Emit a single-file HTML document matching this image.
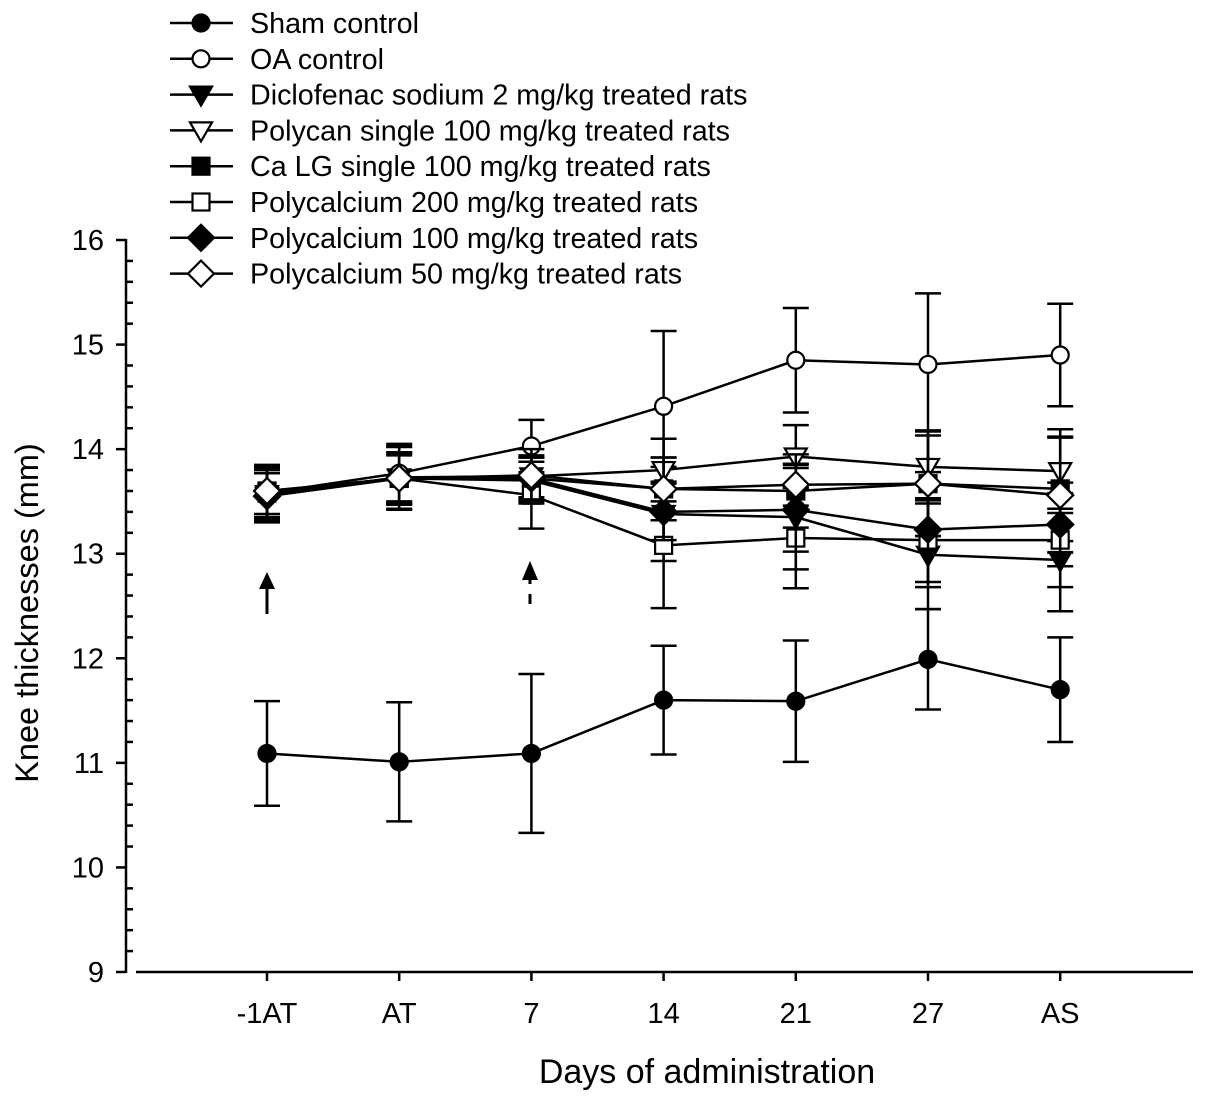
<!DOCTYPE html>
<html><head><meta charset="utf-8"><style>
html,body{margin:0;padding:0;background:#fff}
svg{display:block;font-family:"Liberation Sans",Arial,sans-serif}
</style></head><body>
<svg id="chart" width="1205" height="1103" viewBox="0 0 1205 1103" xmlns="http://www.w3.org/2000/svg"></svg>
<script>
const categories = ["-1AT","AT","7","14","21","27","AS"];
const seriesNames = ["Sham control","OA control","Diclofenac sodium 2 mg/kg treated rats","Polycan single 100 mg/kg treated rats","Ca LG single 100 mg/kg treated rats","Polycalcium 200 mg/kg treated rats","Polycalcium 100 mg/kg treated rats","Polycalcium 50 mg/kg treated rats"];
const markers = ["circleFilled","circleOpen","triDownFilled","triDownOpen","squareFilled","squareOpen","diamondFilled","diamondOpen"];
const shamValues = [11.09,11.01,11.09,11.60,11.59,11.99,11.70];
const shamErr = [0.50,0.57,0.76,0.52,0.58,0.48,0.50];
const oaValues = [13.58,13.77,14.03,14.41,14.85,14.81,14.90];
const oaErr = [0.25,0.28,0.25,0.72,0.50,0.68,0.49];
const diclofenacValues = [13.55,13.72,13.70,13.38,13.35,12.99,12.94];
const diclofenacErr = [0.22,0.25,0.22,0.45,0.50,0.52,0.49];
const polycanValues = [13.57,13.73,13.74,13.80,13.93,13.83,13.79];
const polycanErr = [0.25,0.30,0.20,0.30,0.30,0.35,0.40];
const caLgValues = [13.60,13.72,13.72,13.62,13.60,13.67,13.62];
const caLgErr = [0.22,0.25,0.20,0.30,0.35,0.50,0.50];
const pc200Values = [13.58,13.72,13.56,13.08,13.15,13.13,13.13];
const pc200Err = [0.25,0.24,0.32,0.60,0.48,0.40,0.45];
const pc100Values = [13.55,13.72,13.72,13.40,13.42,13.23,13.28];
const pc100Err = [0.25,0.22,0.20,0.27,0.40,0.55,0.40];
const pc50Values = [13.60,13.72,13.75,13.62,13.66,13.67,13.56];
const pc50Err = [0.25,0.30,0.25,0.30,0.20,0.50,0.55];
const yTickLabels = [9,10,11,12,13,14,15,16];

const allValues=[shamValues,oaValues,diclofenacValues,polycanValues,caLgValues,pc200Values,pc100Values,pc50Values];
const allErr=[shamErr,oaErr,diclofenacErr,polycanErr,caLgErr,pc200Err,pc100Err,pc50Err];
const NS="http://www.w3.org/2000/svg";
const svg=document.getElementById('chart');
function yS(v){return 972-(v-9)*104.57;}
function xS(i){return 267+i*132.2;}
function mk(tag,attrs,parent){const e=document.createElementNS(NS,tag);for(const k in attrs)e.setAttribute(k,attrs[k]);(parent||svg).appendChild(e);return e;}

const axes=mk('g',{});


mk('line',{x1:126,y1:239,x2:126,y2:973,stroke:'#000','stroke-width':2.5},axes);
mk('line',{x1:136,y1:972,x2:1193,y2:972,stroke:'#000','stroke-width':2.5},axes);
for(let v=9;v<=16.001;v+=0.2){
  const maj=Math.abs(v-Math.round(v))<0.01;
  const y=yS(v);
  if(maj) mk('line',{x1:116,y1:y,x2:126,y2:y,stroke:'#000','stroke-width':2.5},axes);
  else mk('line',{x1:126,y1:y,x2:133,y2:y,stroke:'#000','stroke-width':2.5},axes);
}
yTickLabels.forEach(v=>{
  const t=mk('text',{x:104,y:yS(v)+10,'text-anchor':'end','font-size':29},axes);
  t.textContent=v;
  
  
});
categories.forEach((c,i)=>{
  mk('line',{x1:xS(i),y1:972,x2:xS(i),y2:981,stroke:'#000','stroke-width':2.5},axes);
  const t=mk('text',{x:xS(i),y:1023,'text-anchor':'middle','font-size':29},axes);
  t.textContent=c;
  
  
});
const yt=mk('text',{x:0,y:0,'text-anchor':'middle','font-size':32.5,transform:'translate(38,613) rotate(-90)'});
yt.textContent='Knee thicknesses (mm)';


const xt=mk('text',{x:707,y:1083,'text-anchor':'middle','font-size':34});
xt.textContent='Days of administration';



const a1=mk('g',{});


mk('line',{x1:267,y1:614,x2:267,y2:585,stroke:'#000','stroke-width':3},a1);
mk('polygon',{points:'259,589 275,589 267,572',fill:'#000'},a1);
const a2=mk('g',{});


mk('line',{x1:530,y1:594,x2:530,y2:604,stroke:'#000','stroke-width':3},a2);
mk('line',{x1:530,y1:574,x2:530,y2:584,stroke:'#000','stroke-width':3},a2);
mk('polygon',{points:'522,580 538,580 530,561',fill:'#000'},a2);

function marker(type,x,y,parent){
  const f=type.indexOf('Filled')>=0?'#000':'#fff';
  const s={stroke:'#000','stroke-width':2.2,fill:f};
  if(type.startsWith('circle')) return mk('circle',Object.assign({cx:x,cy:y,r:8.5},s),parent);
  if(type.startsWith('tri')) return mk('polygon',Object.assign({points:`${x-11},${y-8} ${x+11},${y-8} ${x},${y+11}`},s),parent);
  if(type.startsWith('square')) return mk('rect',Object.assign({x:x-8.5,y:y-8.5,width:17,height:17},s),parent);
  return mk('polygon',Object.assign({points:`${x},${y-13} ${x+13},${y} ${x},${y+13} ${x-13},${y}`},s),parent);
}

const order=[0,2,3,4,5,6,1,7];
order.forEach(si=>{
  const g=mk('g',{});
  
  
  const vals=allValues[si],err=allErr[si];
  vals.forEach((v,i)=>{
    const x=xS(i),yt=yS(v+err[i]),yb=yS(v-err[i]);
    const eb=mk('path',{d:`M${x},${yt}V${yb}M${x-13},${yt}H${x+13}M${x-13},${yb}H${x+13}`,stroke:'#000','stroke-width':2.5,fill:'none'},g);
    
    
  });
  const pl=mk('polyline',{points:vals.map((v,i)=>xS(i)+','+yS(v)).join(' '),fill:'none',stroke:'#000','stroke-width':2.5},g);
  
  
  vals.forEach((v,i)=>{
    const m=marker(markers[si],xS(i),yS(v),g);
    
    
  });
});

const lg=mk('g',{});


seriesNames.forEach((n,i)=>{
  const y=23+i*35.8;
  const e=mk('g',{},lg);
  
  
  mk('line',{x1:170,y1:y,x2:233,y2:y,stroke:'#000','stroke-width':2.5},e);
  marker(markers[i],201,y,e);
  const t=mk('text',{x:250,y:y+10,'font-size':28.7},e);
  t.textContent=n;
});
</script>
</body></html>
